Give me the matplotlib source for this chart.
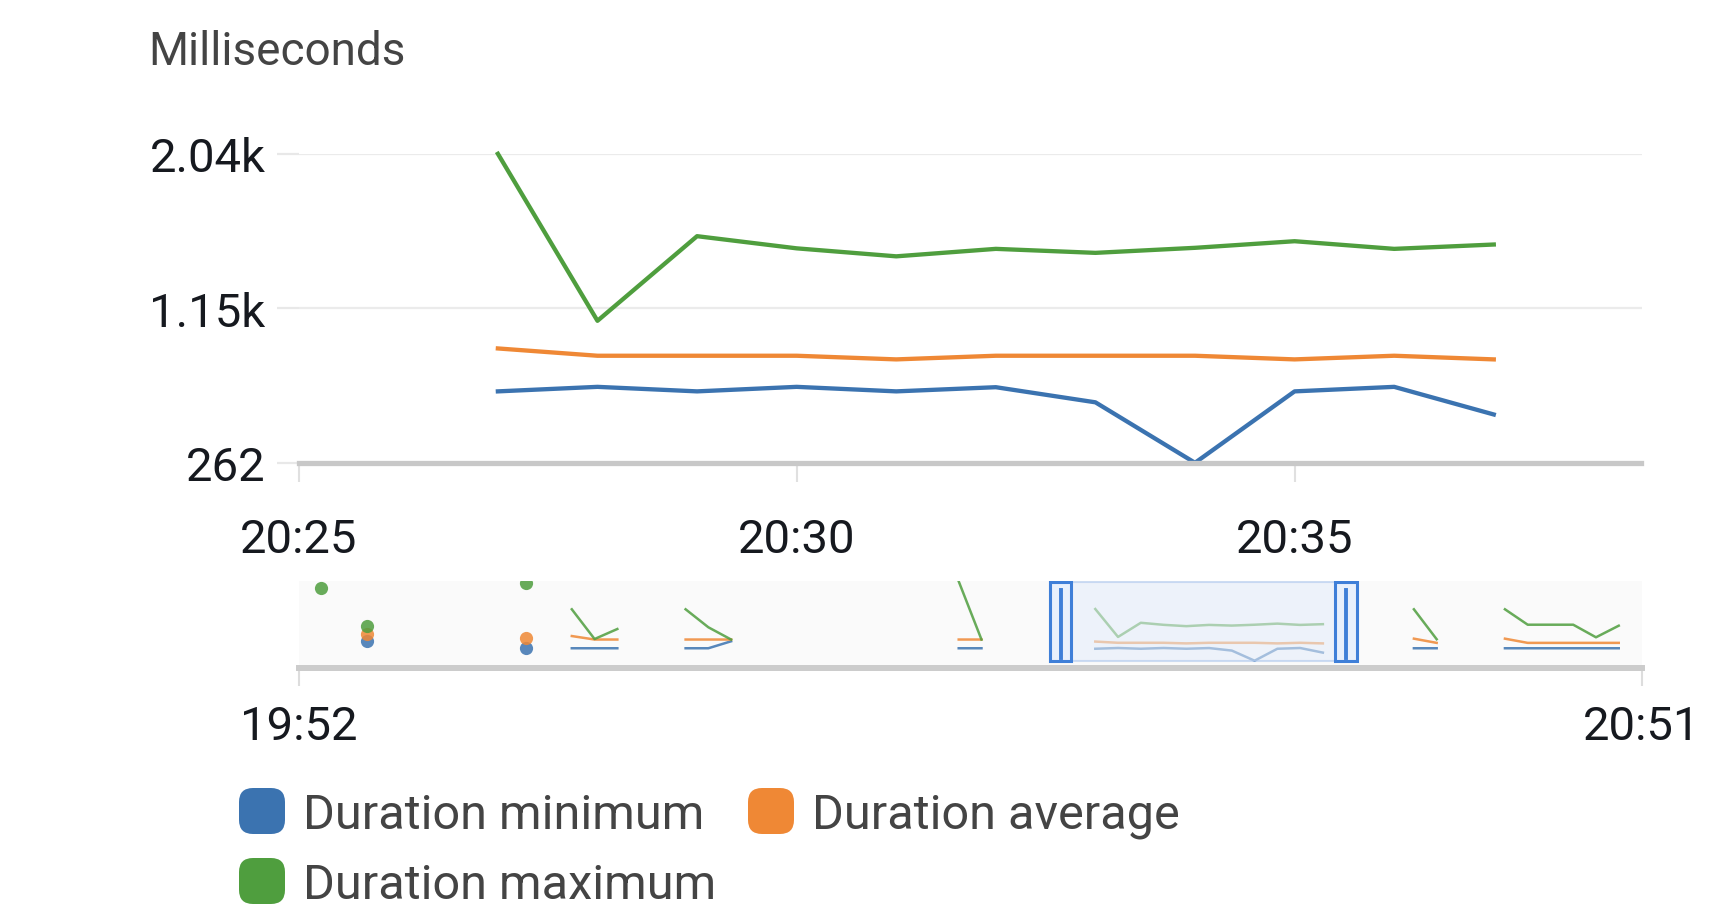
import numpy as np
import pandas as pd
import matplotlib
matplotlib.use('Agg')
import matplotlib.pyplot as plt
from matplotlib.patches import FancyBboxPatch, Rectangle
from matplotlib.transforms import IdentityTransform

plt.rcParams['font.family'] = ['Roboto', 'DejaVu Sans']

# --- data: selected window (one point per minute) ---
times = ['20:27', '20:28', '20:29', '20:30', '20:31', '20:32',
         '20:33', '20:34', '20:35', '20:36', '20:37']
dur_min = [673, 699, 673, 699, 673, 697, 610, 262, 673, 699, 540]
dur_avg = [920, 878, 878, 878, 857, 878, 878, 878, 857, 878, 857]
dur_max = [2040, 1079, 1566, 1496, 1450, 1493, 1470, 1499, 1537, 1493, 1518]

# --- data: overview (navigator) outside the selected window ---
ov_times = ['19:53', '19:55', '20:02', '20:04', '20:05', '20:06', '20:09',
            '20:10', '20:11', '20:21', '20:22', '20:41', '20:42', '20:45',
            '20:46', '20:47', '20:48', '20:49', '20:50']
ov_min = [None, 930, 690, 690, 690, 690, 690, 690, 930, 690, 690,
          690, 690, 690, 690, 690, 690, 690, 690]
ov_avg = [None, 1180, 1030, 1110, 990, 990, 990, 990, 990, 990, 990,
          1020, 875, 1020, 875, 875, 875, 875, 875]
ov_max = [2753, 1466, 2935, 2030, 1008, 1352, 2030, 1411, 990, 2990, 990,
          2030, 1000, 2030, 1500, 1500, 1500, 1067, 1466]

series_names = ['Duration minimum', 'Duration average', 'Duration maximum']
colors = ['#3b73b0', '#ef8835', '#4f9e3e']

y_ticks = [262, 1150, 2040]
y_labels = ['262', '1.15k', '2.04k']
x_ticks = ['20:25', '20:30', '20:35']
nav_ticks = ['19:52', '20:51']
window = ('20:25', '20:38:29')
nav_range = ('19:52', '20:51')

day = '2024-01-01 '


def t(s):
    return pd.Timestamp(day + s)


W, H = 1722, 920
fig = plt.figure(figsize=(W / 100, H / 100), dpi=100)

# ---------------- main chart ----------------
ax = fig.add_axes([298.7 / W, 1 - 463.8 / H, 1342.8 / W, (463.8 - 154.8) / H])
x = [t(s) for s in times]
for vals, c in zip([dur_min, dur_avg, dur_max], colors):
    ax.plot(x, vals, color=c, lw=3.1, clip_on=False)

ax.set_xlim(t(window[0]), t(window[1]))
ax.set_ylim(y_ticks[0], y_ticks[-1])
ax.set_yticks(y_ticks, y_labels)
ax.set_xticks([t(s) for s in x_ticks], x_ticks)
ax.yaxis.grid(True, color='#ebebeb', lw=1.6)
ax.set_axisbelow(True)
for s in ['top', 'right', 'left']:
    ax.spines[s].set_visible(False)
ax.spines['bottom'].set_color('#c8c8c8')
ax.spines['bottom'].set_linewidth(3.8)
ax.tick_params(axis='y', length=16, width=1.6, color='#e8e8e8', pad=8,
               labelsize=34, labelcolor='#16191f')
ax.tick_params(axis='x', length=14, width=1.5, color='#e0e0e0', pad=25,
               labelsize=34, labelcolor='#16191f')

fig.text(148 / W, 1 - 52 / H, 'Milliseconds', fontsize=33, color='#444444',
         va='center', ha='left')

# ---------------- navigator ----------------
nav = fig.add_axes([298.7 / W, 1 - 669 / H, 1342.8 / W, (669 - 582) / H])
nav.set_facecolor('#fafafa')
full_idx = pd.date_range(t(nav_range[0]), t(nav_range[1]), freq='min')
all_times = [t(s) for s in ov_times + times]
for vals_ov, vals, c in zip([ov_min, ov_avg, ov_max],
                            [dur_min, dur_avg, dur_max], colors):
    s = pd.Series(vals_ov + vals, index=all_times, dtype=float).sort_index()
    s = s.reindex(full_idx)
    nav.plot(s.index, s.values, color=c, lw=1.8, alpha=0.85)
    lone = s.notna() & s.shift(1).isna() & s.shift(-1).isna()
    nav.plot(s.index[lone], s.values[lone], 'o', color=c, ms=9.5,
             alpha=0.85, mec='none')

nav.set_xlim(t(nav_range[0]), t(nav_range[1]))
nav.set_ylim(11, 3003)
nav.set_yticks([])
nav.set_xticks([t(s) for s in nav_ticks], nav_ticks)
for s in ['top', 'right', 'left']:
    nav.spines[s].set_visible(False)
nav.spines['bottom'].set_color('#cccccc')
nav.spines['bottom'].set_linewidth(4.3)
nav.tick_params(axis='x', length=12.7, width=1.5, color='#dddddd', pad=13,
                labelsize=34, labelcolor='#16191f')

# selected window box with handles
w0, w1 = t(window[0]), t(window[1])
y0, y1 = 0.077, 0.985
nav.axvspan(w0, w1, ymin=y0, ymax=y1, facecolor='#e4edfa', alpha=0.55,
            edgecolor='#a9c4ec', lw=1.5, zorder=3)
hw = pd.Timedelta(minutes=0.95)
xt = nav.get_xaxis_transform()
for left in [w0, w1 - hw]:
    nav.add_patch(Rectangle((left, y0), hw, y1 - y0, transform=xt,
                            facecolor='#e8f0fc', edgecolor='#3f7fd8',
                            lw=2.2, zorder=4))
    mid = left + hw / 2
    nav.plot([mid, mid], [0.12, 0.9], transform=xt, color='#3f7fd8',
             lw=2.8, zorder=5)

# ---------------- legend ----------------
legend_pos = [(239, 91), (748, 91), (239, 21)]
for (lx, ly), name, c in zip(legend_pos, series_names, colors):
    box = 46
    r = 14
    fig.patches.append(FancyBboxPatch((lx + r, ly - 6 + r), box - 2 * r,
                                      box - 2 * r,
                                      boxstyle=f'round,pad={r}',
                                      transform=IdentityTransform(),
                                      facecolor=c, edgecolor='none',
                                      figure=fig))
    fig.text((lx + 64) / W, ly / H, name, fontsize=35, color='#444444',
             va='baseline', ha='left')

fig.savefig('out.png', dpi=100, facecolor='white')
